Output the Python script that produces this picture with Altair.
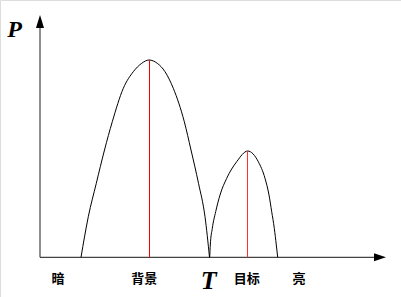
import altair as alt
import pandas as pd

# Background hump (grey level, P)
bg_x = [41.0, 48.3, 56.3, 64.5, 72.3, 83.3, 93.3, 101.7, 109.0, 117.3, 125.0, 133.3, 144.3, 151.0, 158.5, 165.0, 169.5]
bg_p = [0.0, 40.6, 74.0, 107.3, 135.6, 169.0, 185.6, 194.0, 197.3, 194.0, 185.6, 169.0, 135.6, 107.3, 74.0, 40.6, 0.0]

# Target hump
tg_x = [169.7, 170.3, 172.3, 175.7, 180.0, 186.7, 196.7, 207.7, 218.3, 225.0, 229.0, 231.7, 234.3, 236.3, 237.7]
tg_p = [0.0, 12.3, 29.0, 45.6, 62.3, 79.0, 95.6, 106.3, 95.6, 79.0, 62.3, 45.6, 29.0, 12.3, 0.0]

# Peak markers
bg_peak = (109.5, 197.3)
tg_peak = (207.5, 106.3)

# Axis labels
cat_labels = ["暗", "背景", "目标", "亮"]
cat_x = [18.0, 104.3, 206.7, 259.0]
t_label = "T"
t_x = 168.7
p_label = "P"

X_DOM = [-40, 361]
Y_DOM = [-39.7, 257.3]
xs = alt.Scale(domain=X_DOM, range=[0, 401], nice=False, zero=False)
ys = alt.Scale(domain=Y_DOM, range=[297, 0], nice=False, zero=False)
X = lambda f: alt.X(f, type="quantitative", scale=xs, axis=None)
Y = lambda f: alt.Y(f, type="quantitative", scale=ys, axis=None)

bg = pd.DataFrame({"x": bg_x, "p": bg_p, "o": range(len(bg_x))})
tg = pd.DataFrame({"x": tg_x, "p": tg_p, "o": range(len(tg_x))})

curve_bg = alt.Chart(bg).mark_line(color="black", strokeWidth=1, interpolate="monotone").encode(
    x=X("x"), y=Y("p"), order="o:Q")
curve_tg = alt.Chart(tg).mark_line(color="black", strokeWidth=1, interpolate="monotone").encode(
    x=X("x"), y=Y("p"), order="o:Q")

rule_bg = alt.Chart(pd.DataFrame({"x": [bg_peak[0]], "p": [bg_peak[1]], "z": [0]})).mark_rule(
    strokeWidth=1, color="#ff0000", opacity=1).encode(x=X("x"), y=Y("z"), y2="p")
rule_tg = alt.Chart(pd.DataFrame({"x": [tg_peak[0]], "p": [tg_peak[1]], "z": [0]})).mark_rule(
    strokeWidth=1, color="#ff3030", opacity=1).encode(x=X("x"), y=Y("z"), y2="p")

axes = pd.DataFrame({"x": [0, 0], "y": [0, 0], "x2": [0, 334], "y2": [229.3, 0]})
axis_lines = alt.Chart(axes).mark_rule(color="#444", strokeWidth=1.2).encode(
    x=X("x"), y=Y("y"), x2="x2", y2="y2")

up = alt.Chart(pd.DataFrame({"x": [0], "y": [235.8]})).mark_point(
    shape="M0,-1L0.62,1L-0.62,1Z", size=169, filled=True, color="black", opacity=1).encode(
    x=X("x"), y=Y("y"))
right = alt.Chart(pd.DataFrame({"x": [340], "y": [0]})).mark_point(
    shape="M1,0L-1,0.67L-1,-0.67Z", size=144, filled=True, color="black", opacity=1).encode(
    x=X("x"), y=Y("y"))

cats = pd.DataFrame({"x": cat_x, "y": [-21.7] * len(cat_x), "t": cat_labels})
cat_text = alt.Chart(cats).mark_text(font="Noto Sans CJK SC", fontSize=13, fontWeight="bold",
                                     baseline="middle", align="center", color="black").encode(
    x=X("x"), y=Y("y"), text="t:N")

t_text = alt.Chart(pd.DataFrame({"x": [t_x], "y": [-31.4], "t": [t_label]})).mark_text(
    font="Liberation Serif", fontSize=26, fontWeight="bold", fontStyle="italic",
    baseline="alphabetic", align="center", color="black").encode(x=X("x"), y=Y("y"), text="t:N")

p_text = alt.Chart(pd.DataFrame({"x": [-25.3], "y": [220.0], "t": [p_label]})).mark_text(
    font="Liberation Serif", fontSize=24, fontWeight="bold", fontStyle="italic",
    baseline="alphabetic", align="center", color="black").encode(x=X("x"), y=Y("y"), text="t:N")

chart = alt.layer(axis_lines, curve_bg, curve_tg, rule_bg, rule_tg, up, right, cat_text, t_text, p_text).properties(
    width=401, height=297, padding=0, autosize=alt.AutoSizeParams(type="none")
).configure_view(stroke=None).configure(background="white")

chart.save("out.html", embed_options={"renderer": "svg", "actions": False})
